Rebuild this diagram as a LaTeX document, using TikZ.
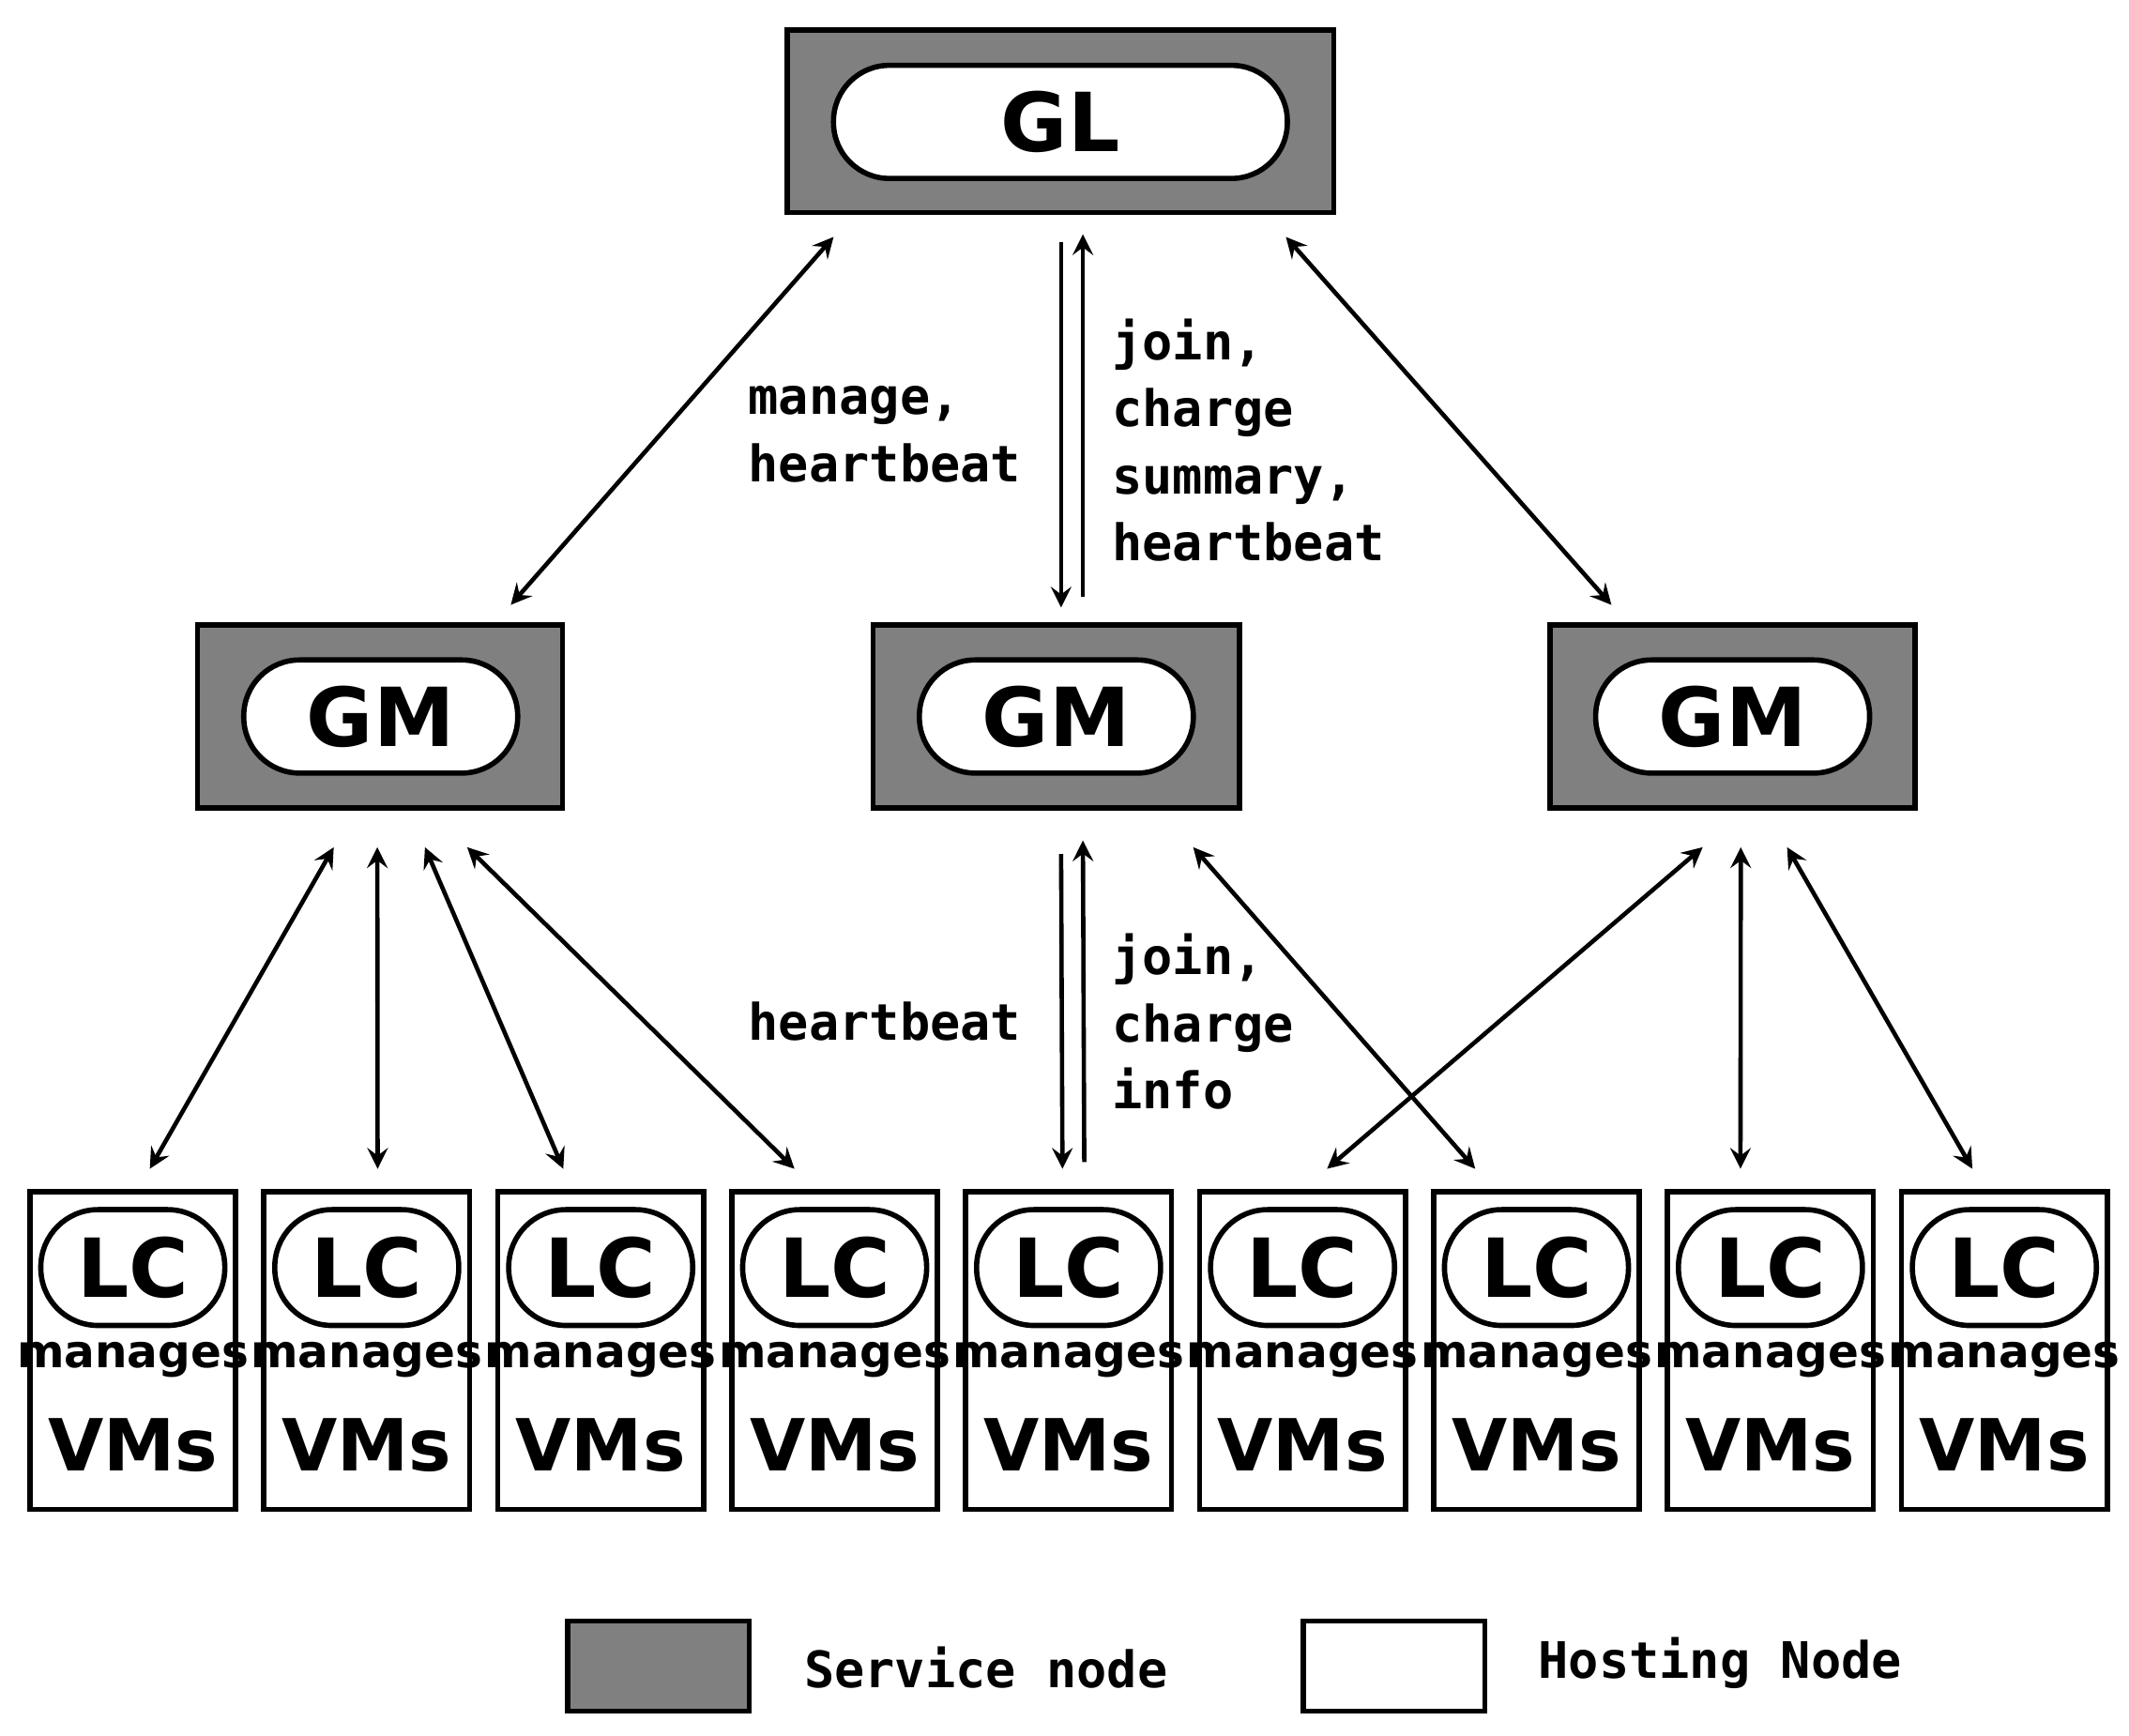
\documentclass[tikz,border=0pt]{standalone}
\usepackage{fontspec}
\setmainfont{DejaVu Sans}
\newfontfamily\labelmono{DejaVu Sans Mono}
\usetikzlibrary{calc}

\begin{document}
\begin{tikzpicture}[x=0.01cm, y=-0.01cm,
service/.style={rectangle, draw=black, fill=gray, line width=1.1pt, inner sep=0pt},
hosting/.style={rectangle, draw=black, fill=white, line width=1.1pt, inner sep=0pt, minimum width=1.51cm, minimum height=2.33cm},
pill/.style={rectangle, rounded corners=0.41cm, draw=black, fill=white, line width=1.1pt, inner sep=0pt, minimum height=0.83cm, font=\fontsize{17}{20}\selectfont\bfseries},
small_pill/.style={pill, minimum width=1.35cm, minimum height=0.85cm, rounded corners=0.42cm},
both_arrow/.style={<->, >=stealth, line width=0.9pt},
out_arrow/.style={->, >=stealth, line width=0.9pt},
edge_text/.style={font=\labelmono\fontsize{10.5}{14}\selectfont\bfseries, align=left}
]
\useasboundingbox (0,0) rectangle (1563,1274);

% service nodes
\node[service, minimum width=4.01cm, minimum height=1.34cm](gl) at (778.5,89) {};
\node[pill, minimum width=3.33cm](gl_text) at (778.5,89.5) {GL};

\node[service, minimum width=2.68cm, minimum height=1.34cm](gm_one) at (279,526) {};
\node[service, minimum width=2.69cm, minimum height=1.34cm](gm_two) at (775.5,526) {};
\node[service, minimum width=2.68cm, minimum height=1.34cm](gm_three) at (1272,526) {};
\node[pill, minimum width=2.01cm](gm_one_text) at (279.5,526) {GM};
\node[pill, minimum width=2.01cm](gm_two_text) at (775.5,526) {GM};
\node[pill, minimum width=2.01cm](gm_three_text) at (1272,526) {GM};

% hosting nodes
\foreach \i in {1,...,9} {
  \node[hosting](lc\i) at ({97.5+171.75*(\i-1)},991.5) {};
  \node[small_pill](lc\i_text) at ($(lc\i.north)+(0,57.5)$) {LC};
  \node[font=\fontsize{9.5}{11}\selectfont\bfseries](lc\i_manages) at ($(lc\i.north)+(0,125)$) {manages};
  \node[font=\fontsize{15}{18}\selectfont\bfseries](lc\i_vms) at ($(lc\i.north)+(0,188)$) {VMs};
}

% GL <-> GM
\draw[both_arrow]($(gl.south west)+(36,16)$) -- ($(gm_one.north)+(96,-13)$);
\draw[both_arrow]($(gl.south east)+(-37,16)$) -- ($(gm_three.north)+(-89,-13)$);
\draw[out_arrow]($(gl.south)+(0.5,20)$) -- ($(gm_two.north)+(3.5,-11)$);
\draw[out_arrow]($(gm_two.north)+(19.5,-19)$) -- ($(gl.south)+(16.5,14)$);
\node[edge_text, anchor=east](gl_down_text) at (762,319) {manage,\\heartbeat};
\node[edge_text, anchor=west](gl_up_text) at (804,323) {join,\\charge\\summary,\\heartbeat};

% GM <-> LC
\draw[both_arrow]($(gm_one.south)+(-34,27)$) -- ($(lc1.north)+(12.5,-15)$);
\draw[both_arrow]($(gm_one.south)+(-2,27)$) -- ($(lc2.north)+(8,-15)$);
\draw[both_arrow]($(gm_one.south)+(33,27)$) -- ($(lc3.north)+(-27.5,-15)$);
\draw[both_arrow]($(gm_one.south)+(64,27)$) -- ($(lc4.north)+(-29.5,-15)$);
\draw[out_arrow]($(gm_two.south)+(3.5,32)$) -- ($(lc5.north)+(-4.5,-15)$);
\draw[out_arrow]($(lc5.north)+(11.5,-20)$) -- ($(gm_two.south)+(19.5,22)$);
\node[edge_text, anchor=east](gm_down_text) at (762,750) {heartbeat};
\node[edge_text, anchor=west](gm_up_text) at (804,750) {join,\\charge\\info};
\draw[both_arrow]($(gm_two.south)+(100.5,27)$) -- ($(lc7.north)+(-45,-15)$);
\draw[both_arrow]($(gm_three.south)+(-22,27)$) -- ($(lc6.north)+(18,-15)$);
\draw[both_arrow]($(gm_three.south)+(6,27)$) -- ($(lc8.north)+(-22,-15)$);
\draw[both_arrow]($(gm_three.south)+(40,27)$) -- ($(lc9.north)+(-23.5,-15)$);

% legend
\node[service, minimum width=1.33cm, minimum height=0.66cm](legend_service) at (483.5,1223) {};
\node[edge_text, anchor=west](legend_service_text) at (578,1224) {Service node};
\node[hosting, minimum width=1.33cm, minimum height=0.66cm](legend_hosting) at (1023.5,1223) {};
\node[edge_text, anchor=west](legend_hosting_text) at (1117,1221) {Hosting Node};
\end{tikzpicture}
\end{document}
